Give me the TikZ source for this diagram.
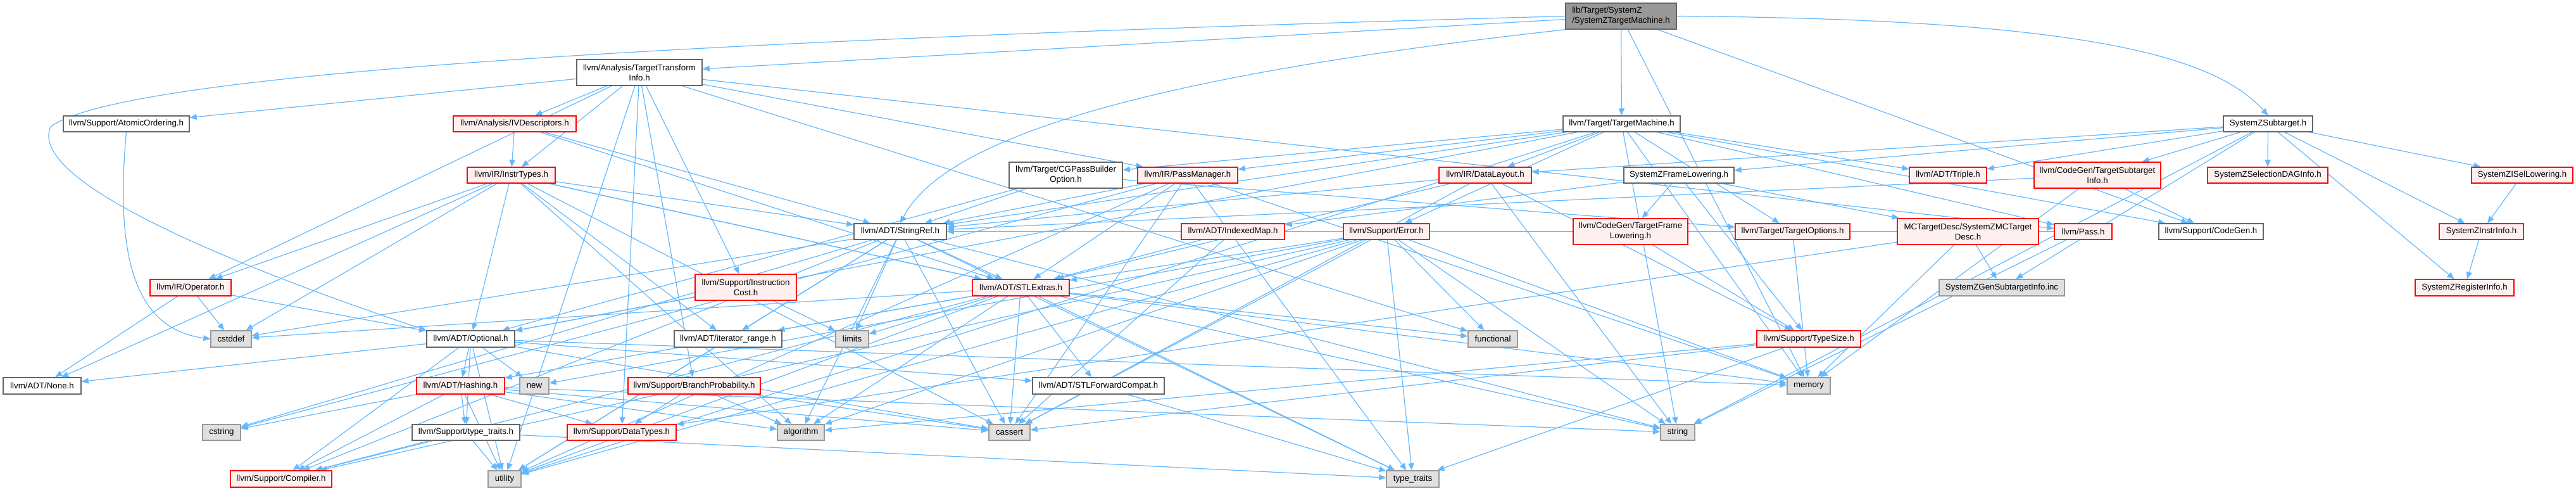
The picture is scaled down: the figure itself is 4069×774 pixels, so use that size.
\documentclass[tikz,border=0pt]{standalone}
\usepackage{fontspec}
\setmainfont{Liberation Sans}
\usetikzlibrary{arrows.meta}
\pgfdeclarelayer{edgelayer}
\pgfsetlayers{edgelayer,main}
\definecolor{eblue}{HTML}{63B8FF}
\definecolor{gborder}{HTML}{666666}
\definecolor{sysborder}{HTML}{999999}
\definecolor{sysfill}{HTML}{E0E0E0}
\definecolor{redfill}{HTML}{FFF0F0}
\definecolor{topfill}{HTML}{999999}
\newcommand\nb[7]{\node[nd,#6,minimum width={(#4-#2)*1pt},minimum height={(#5-#3)*1pt}] (#1) at ({(#2+#4)/2},{(#3+#5)/2}) {#7};}
\tikzset{
  nd/.style={draw=gborder,fill=white,line width=1.5pt,inner sep=0pt,align=center,
    font=\fontsize{13.3}{16}\selectfont},
  rd/.style={draw=red,fill=redfill},
  sys/.style={draw=sysborder,fill=sysfill},
  topnode/.style={draw=gborder,fill=topfill,align=left},
  plain/.style={},
  e/.style={draw=eblue,line width=1.2pt,-{Triangle[length=11pt,width=9pt]}}
}
\begin{document}
\begin{tikzpicture}[x=1pt,y=-1pt]
\useasboundingbox (0,0) rectangle (4069,774);
% nodes
\nb{SZTM}{2473}{5}{2648}{46}{topnode}{lib/Target/SystemZ\\/SystemZTargetMachine.h}
\nb{TTI}{911}{94}{1109}{135}{plain}{llvm/Analysis/TargetTransform\\Info.h}
\nb{TM}{2469}{183}{2654}{208}{plain}{llvm/Target/TargetMachine.h}
\nb{SZST}{3512}{183}{3653}{208}{plain}{SystemZSubtarget.h}
\nb{AO}{100}{183}{299}{208}{plain}{llvm/Support/AtomicOrdering.h}
\nb{IVD}{716}{183}{910}{208}{rd}{llvm/Analysis/IVDescriptors.h}
\nb{IT}{738}{264}{877}{289}{rd}{llvm/IR/InstrTypes.h}
\nb{CGPBO}{1594}{256}{1773}{297}{plain}{llvm/Target/CGPassBuilder\\Option.h}
\nb{PM}{1797}{264}{1955}{289}{rd}{llvm/IR/PassManager.h}
\nb{DL}{2273}{264}{2419}{289}{rd}{llvm/IR/DataLayout.h}
\nb{SZFL}{2565}{264}{2739}{289}{plain}{SystemZFrameLowering.h}
\nb{Triple}{3016}{264}{3138}{289}{rd}{llvm/ADT/Triple.h}
\nb{TSI}{3213}{256}{3413}{297}{rd}{llvm/CodeGen/TargetSubtarget\\Info.h}
\nb{SDAG}{3487}{264}{3677}{289}{rd}{SystemZSelectionDAGInfo.h}
\nb{ISEL}{3904}{264}{4064}{289}{rd}{SystemZISelLowering.h}
\nb{SR}{1349}{353}{1495}{378}{plain}{llvm/ADT/StringRef.h}
\nb{IM}{1866}{353}{2029}{378}{rd}{llvm/ADT/IndexedMap.h}
\nb{Err}{2122}{353}{2258}{378}{rd}{llvm/Support/Error.h}
\nb{TFL}{2485}{345}{2666}{386}{rd}{llvm/CodeGen/TargetFrame\\Lowering.h}
\nb{TO}{2741}{353}{2922}{378}{rd}{llvm/Target/TargetOptions.h}
\nb{MCTD}{2997}{345}{3220}{386}{rd}{MCTargetDesc/SystemZMCTarget\\Desc.h}
\nb{Pass}{3245}{353}{3336}{378}{rd}{llvm/Pass.h}
\nb{CG}{3410}{353}{3575}{378}{plain}{llvm/Support/CodeGen.h}
\nb{II}{3853}{353}{3986}{378}{rd}{SystemZInstrInfo.h}
\nb{Op}{237}{441}{365}{467}{rd}{llvm/IR/Operator.h}
\nb{IC}{1098}{433}{1258}{474}{rd}{llvm/Support/Instruction\\Cost.h}
\nb{STLX}{1536}{441}{1689}{467}{rd}{llvm/ADT/STLExtras.h}
\nb{GenST}{3063}{441}{3261}{467}{sys}{SystemZGenSubtargetInfo.inc}
\nb{RI}{3815}{441}{3971}{467}{rd}{SystemZRegisterInfo.h}
\nb{cstddef}{333}{522}{397}{548}{sys}{cstddef}
\nb{Opt}{674}{522}{813}{548}{plain}{llvm/ADT/Optional.h}
\nb{iter}{1065}{522}{1235}{548}{plain}{llvm/ADT/iterator\_range.h}
\nb{limits}{1320}{522}{1372}{548}{sys}{limits}
\nb{functional}{2319}{522}{2397}{548}{sys}{functional}
\nb{TS}{2775}{522}{2939}{548}{rd}{llvm/Support/TypeSize.h}
\nb{None}{5}{596}{128}{622}{plain}{llvm/ADT/None.h}
\nb{Hash}{658}{596}{797}{622}{rd}{llvm/ADT/Hashing.h}
\nb{newh}{821}{596}{867}{622}{sys}{new}
\nb{BP}{992}{596}{1201}{622}{rd}{llvm/Support/BranchProbability.h}
\nb{STLFC}{1631}{596}{1839}{622}{plain}{llvm/ADT/STLForwardCompat.h}
\nb{memory}{2823}{596}{2891}{622}{sys}{memory}
\nb{cstring}{320}{670}{380}{695}{sys}{cstring}
\nb{stt}{651}{670}{821}{695}{plain}{llvm/Support/type\_traits.h}
\nb{DT}{896}{670}{1068}{695}{rd}{llvm/Support/DataTypes.h}
\nb{algorithm}{1228}{670}{1302}{695}{sys}{algorithm}
\nb{cassert}{1562}{670}{1627}{695}{sys}{cassert}
\nb{stringh}{2623}{670}{2677}{695}{sys}{string}
\nb{Comp}{364}{743}{524}{769}{rd}{llvm/Support/Compiler.h}
\nb{utility}{771}{743}{823}{769}{sys}{utility}
\nb{tt}{2190}{743}{2273}{769}{sys}{type\_traits}
\begin{pgfonlayer}{edgelayer}
% straight edges
\foreach \a/\b in {
 SZTM/TTI, SZTM/TM, SZTM/CG, SZTM/memory,
 TTI/AO, TTI/IVD, TTI/IT, TTI/Op, TTI/PM, TTI/Pass, TTI/BP, TTI/DT, TTI/IC, TTI/functional, TTI/utility,
 TM/DL, TM/CGPBO, TM/PM, TM/Triple, TM/Err, TM/TO, TM/Pass, TM/CG, TM/SR, TM/Opt, TM/stringh, TM/utility, TM/memory,
 SZST/SZFL, SZST/SDAG, SZST/ISEL, SZST/II, SZST/RI, SZST/TSI, SZST/DL, SZST/Triple, SZST/GenST, SZST/stringh,
 IVD/IT, IVD/SR, IVD/STLX,
 IT/Op, IT/SR, IT/STLX, IT/Opt, IT/None, IT/iter, IT/cstddef, IT/algorithm, IT/cassert, IT/stringh,
 CGPBO/Opt, CGPBO/SR, CGPBO/TO,
 PM/SR, PM/STLX, PM/cassert, PM/cstring, PM/memory, PM/tt, PM/utility,
 DL/SR, DL/STLX, DL/TS, DL/cassert, DL/stringh,
 SZFL/MCTD, SZFL/IM, SZFL/TFL, SZFL/TS,
 TSI/SR, TSI/CG, TSI/memory,
 ISEL/II, II/RI,
 SR/STLX, SR/iter, SR/limits, SR/cstddef, SR/cstring, SR/algorithm, SR/cassert, SR/stringh, SR/tt, SR/utility, SR/Comp,
 IM/STLX, IM/cassert,
 Err/STLX, Err/functional, Err/newh, Err/memory, Err/algorithm, Err/cassert, Err/stringh, Err/tt, Err/utility, Err/Comp,
 TFL/TS, TO/memory,
 MCTD/GenST, MCTD/DT, MCTD/memory,
 Pass/SR, Pass/stringh,
 IC/Opt, IC/limits,
 STLX/Hash, STLX/STLFC, STLX/iter, STLX/limits, STLX/functional, STLX/cstddef, STLX/memory, STLX/algorithm, STLX/cassert, STLX/tt, STLX/utility, STLX/Comp,
 Op/None, Op/Opt, Op/cstddef,
 Opt/Hash, Opt/None, Opt/STLFC, Opt/stt, Opt/newh, Opt/memory, Opt/cassert, Opt/utility, Opt/Comp,
 iter/utility,
 TS/algorithm, TS/cassert, TS/tt,
 Hash/stt, Hash/DT, Hash/algorithm, Hash/cassert, Hash/cstring, Hash/stringh, Hash/utility, Hash/Comp,
 BP/DT, BP/algorithm, BP/cassert,
 STLFC/tt,
 stt/Comp, stt/tt, stt/utility}
 {\draw[e] (\a) -- (\b);}
% curved edges
\draw[e] (SZTM.west) .. controls (1200,60) and (200,110) .. (80,200) .. controls (40,290) and (400,430) .. (Opt.north west);
\draw[e] (SZTM.east) .. controls (3300,30) and (3500,90) .. (SZST.north);
\draw[e] (SZTM.south west) .. controls (1900,110) and (1500,200) .. (SR.north);
\draw[e] (AO.south) .. controls (180,420) and (220,520) .. (cstddef.west);
\end{pgfonlayer}
\end{tikzpicture}
\end{document}
